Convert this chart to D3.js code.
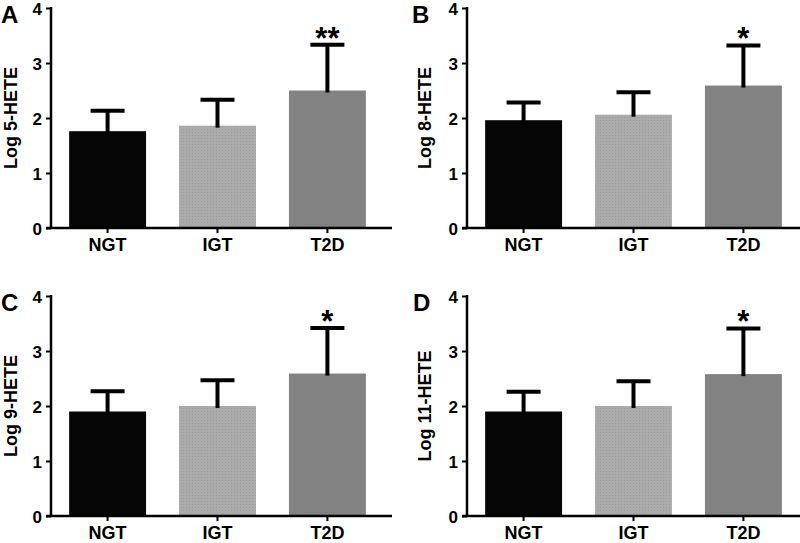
<!DOCTYPE html>
<html><head><meta charset="utf-8">
<script src="https://cdn.jsdelivr.net/npm/d3@7"></script>
<style>body{margin:0;background:#fff}svg{display:block}text{font-family:"Liberation Sans",Arial,sans-serif}</style>
</head><body><svg id="c" width="800" height="543"></svg>
<script>
const categories = ["NGT", "IGT", "T2D"];
const panelLetters = ["A", "B", "C", "D"];
const yTitles = ["Log 5-HETE", "Log 8-HETE", "Log 9-HETE", "Log 11-HETE"];
const means = [
  [1.76, 1.86, 2.50],
  [1.96, 2.06, 2.59],
  [1.90, 2.00, 2.59],
  [1.90, 2.00, 2.58]
];
const upperErr = [
  [2.13, 2.33, 3.33],
  [2.28, 2.47, 3.32],
  [2.27, 2.47, 3.42],
  [2.26, 2.45, 3.41]
];
const stars = ["**", "*", "*", "*"];
const yTicks = [0, 1, 2, 3, 4];

const svg = d3.select("#c");
const fills = ["#050505", "#a9a9a9", "#828282"];
const layout = [
  {ax: 51, top: 8, bottom: 228, tx: 17, lx: 1},
  {ax: 467, top: 8, bottom: 228, tx: 431, lx: 412},
  {ax: 51, top: 296, bottom: 516, tx: 17, lx: 1},
  {ax: 467, top: 296, bottom: 516, tx: 431, lx: 413}
];

const defs = svg.append("defs");
const pat = defs.append("pattern").attr("id", "igt").attr("width", 3).attr("height", 3).attr("patternUnits", "userSpaceOnUse");
pat.append("rect").attr("width", 3).attr("height", 3).attr("fill", "#ababab");
pat.append("rect").attr("width", 1).attr("height", 1).attr("fill", "#9c9c9c");

const boldFont = "Liberation Sans, Arial, sans-serif";

layout.forEach((L, i) => {
  const g = svg.append("g");
  const y = d3.scaleLinear().domain([0, 4]).range([L.bottom, L.top]);
  const x = d3.scaleBand().domain(categories).range([L.ax, L.ax + 333]).paddingInner(0.3).paddingOuter(0.165);

  const data = categories.map((c, j) => ({c, m: means[i][j], e: upperErr[i][j], j}));

  g.selectAll("rect.bar").data(data).join("rect").attr("class", "bar")
    .attr("x", d => x(d.c)).attr("width", x.bandwidth())
    .attr("y", d => y(d.m)).attr("height", d => y(0) - y(d.m))
    .attr("fill", d => d.j === 1 ? "url(#igt)" : fills[d.j]);

  const capW = 34;
  const cx = d => x(d.c) + x.bandwidth() / 2;
  g.selectAll("line.stem").data(data).join("line").attr("class", "stem")
    .attr("x1", cx).attr("x2", cx)
    .attr("y1", d => y(d.m) + 2).attr("y2", d => y(d.e))
    .attr("stroke", "#000").attr("stroke-width", 4);
  g.selectAll("line.cap").data(data).join("line").attr("class", "cap")
    .attr("x1", d => cx(d) - capW / 2).attr("x2", d => cx(d) + capW / 2)
    .attr("y1", d => y(d.e)).attr("y2", d => y(d.e))
    .attr("stroke", "#000").attr("stroke-width", 4);

  const t2 = data[2];
  g.append("text").attr("x", cx(t2)).attr("y", y(t2.e) + 4)
    .attr("text-anchor", "middle").style("font-size", "31px").style("font-weight", "bold").text(stars[i]);

  const yAxis = d3.axisLeft(y).tickValues(yTicks).tickFormat(d3.format("d")).tickSize(5).tickSizeOuter(0).tickPadding(4);
  const ya = g.append("g").attr("transform", `translate(${L.ax},0)`).call(yAxis);
  ya.select(".domain").attr("stroke-width", 2.5).attr("d", `M0,${L.top - 1}V${L.bottom + 1}`);
  ya.selectAll(".tick line").attr("stroke-width", 2);
  ya.selectAll(".tick text").style("font-size", "17px").style("font-weight", "bold").attr("fill", "#000")
    .style("font-family", boldFont).attr("dy", "0.36em");

  const xAxis = d3.axisBottom(x).tickSize(5).tickSizeOuter(0).tickPadding(5);
  const xa = g.append("g").attr("transform", `translate(0,${L.bottom})`).call(xAxis);
  xa.select(".domain").attr("stroke-width", 2.5).attr("d", `M${L.ax - 5},0H${L.ax + 341}`);
  xa.selectAll(".tick line").attr("stroke-width", 2);
  xa.selectAll(".tick text").style("font-size", "18px").style("font-weight", "bold").attr("fill", "#000")
    .style("font-family", boldFont);

  g.append("text").attr("transform", `translate(${L.tx},${(L.top + L.bottom) / 2}) rotate(-90)`)
    .attr("text-anchor", "middle").style("font-size", "18px").style("font-weight", "bold").text(yTitles[i]);

  g.append("text").attr("x", L.lx).attr("y", L.top + 15).style("font-size", "24px").style("font-weight", "bold").text(panelLetters[i]);
});
</script></body></html>
